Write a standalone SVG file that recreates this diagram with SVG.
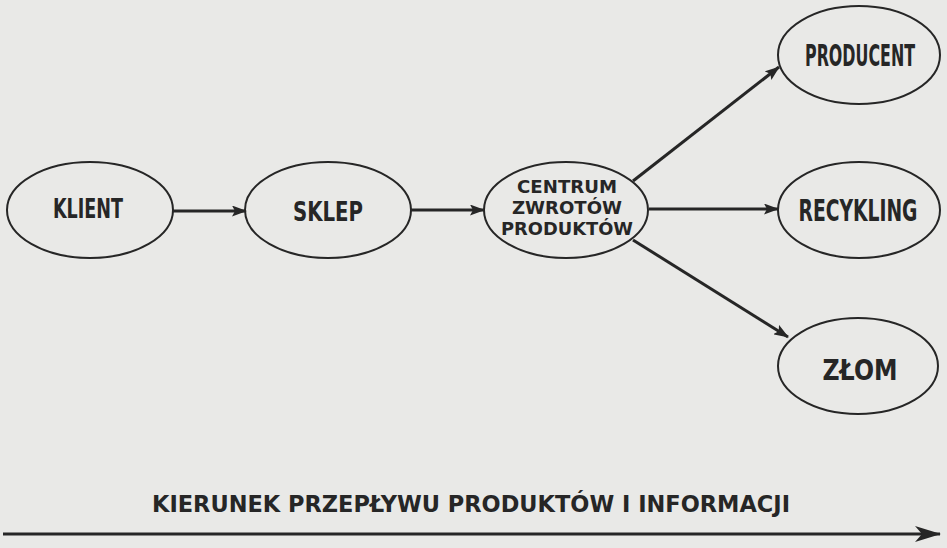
<svg xmlns="http://www.w3.org/2000/svg" width="947" height="548" viewBox="0 0 947 548">
  <defs>
    <marker id="head" viewBox="0 0 15 11" refX="14" refY="5.5" markerWidth="15" markerHeight="11" markerUnits="userSpaceOnUse" orient="auto">
      <path d="M0,0 L15,5.5 L0,11 L3,5.5 z" fill="#262626"/>
    </marker>
    <marker id="bighead" viewBox="0 0 26 16" refX="25" refY="8" markerWidth="26" markerHeight="16" markerUnits="userSpaceOnUse" orient="auto">
      <path d="M0,0 L26,8 L0,16 L7,8 z" fill="#262626"/>
    </marker>
  </defs>
  <style>
    .node ellipse { fill: none; stroke: #262626; stroke-width: 2; }
    .lbl { font-family: "DejaVu Sans", Verdana, sans-serif; font-weight: bold; fill: #262626; text-anchor: middle; }
    .edge { stroke: #262626; stroke-width: 3; fill: none; marker-end: url(#head); }
  </style>

  <rect width="947" height="548" fill="#e9e9e7"/>

  <g id="klient" class="node">
    <ellipse cx="90" cy="210" rx="83" ry="48"/>
    <text class="lbl" x="88" y="218" font-size="26" textLength="70" lengthAdjust="spacingAndGlyphs">KLIENT</text>
  </g>

  <g id="sklep" class="node">
    <ellipse cx="328" cy="210" rx="83" ry="48"/>
    <text class="lbl" x="328" y="221" font-size="26" textLength="70" lengthAdjust="spacingAndGlyphs">SKLEP</text>
  </g>

  <g id="centrum" class="node">
    <ellipse cx="566" cy="210" rx="82" ry="48"/>
    <text class="lbl" x="567" y="193" font-size="18" textLength="100" lengthAdjust="spacingAndGlyphs">CENTRUM</text>
    <text class="lbl" x="567" y="214" font-size="18" textLength="110" lengthAdjust="spacingAndGlyphs">ZWROTÓW</text>
    <text class="lbl" x="567" y="235" font-size="18" textLength="132" lengthAdjust="spacingAndGlyphs">PRODUKTÓW</text>
  </g>

  <g id="producent" class="node">
    <ellipse cx="859" cy="55" rx="81" ry="49"/>
    <text class="lbl" x="860" y="66" font-size="30" textLength="110" lengthAdjust="spacingAndGlyphs">PRODUCENT</text>
  </g>

  <g id="recykling" class="node">
    <ellipse cx="859" cy="210" rx="81" ry="48"/>
    <text class="lbl" x="858" y="221" font-size="31" textLength="119" lengthAdjust="spacingAndGlyphs">RECYKLING</text>
  </g>

  <g id="zlom" class="node">
    <ellipse cx="858" cy="366" rx="80" ry="48"/>
    <text class="lbl" x="860" y="380" font-size="29" textLength="75" lengthAdjust="spacingAndGlyphs">ZŁOM</text>
  </g>

  <g id="connectors">
    <line class="edge" x1="173" y1="211" x2="246" y2="211"/>
    <line class="edge" x1="411" y1="210" x2="484" y2="210"/>
    <line class="edge" x1="633" y1="181" x2="779" y2="67"/>
    <line class="edge" x1="649" y1="209" x2="778" y2="209"/>
    <line class="edge" x1="633" y1="240" x2="788" y2="337"/>
  </g>

  <g id="flow-direction">
    <text class="lbl" x="471" y="512" font-size="23" textLength="638" lengthAdjust="spacingAndGlyphs">KIERUNEK PRZEPŁYWU PRODUKTÓW I INFORMACJI</text>
    <line x1="3" y1="534" x2="940" y2="534" stroke="#262626" stroke-width="3" marker-end="url(#bighead)"/>
  </g>
</svg>
